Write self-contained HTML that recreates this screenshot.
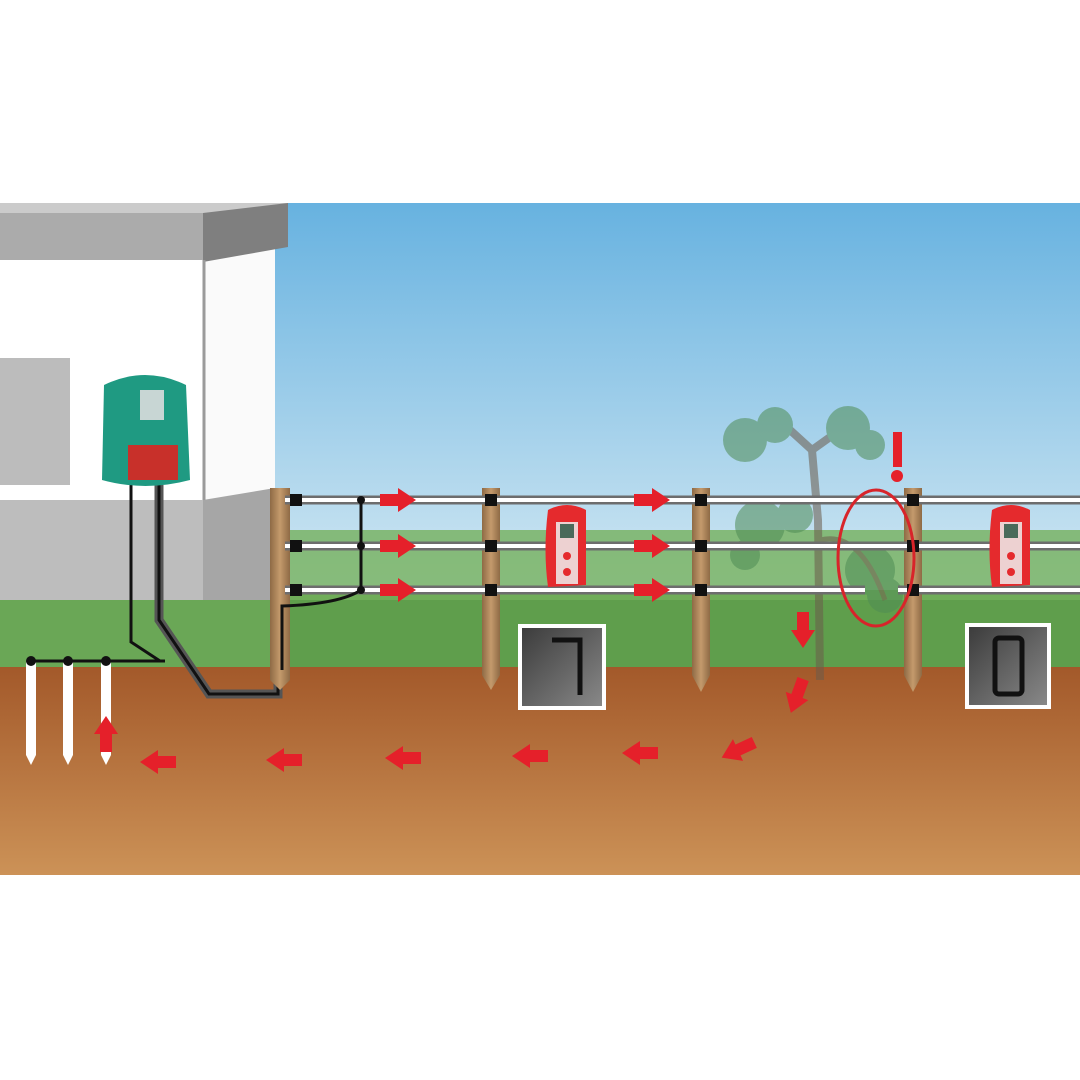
<!DOCTYPE html>
<html><head><meta charset="utf-8"><style>html,body{margin:0;padding:0;background:#fff}svg{display:block}</style></head>
<body>
<svg width="1080" height="1080" viewBox="0 0 1080 1080" xmlns="http://www.w3.org/2000/svg">
<defs>
<linearGradient id="sky" x1="0" y1="0" x2="0" y2="1"><stop offset="0" stop-color="#67b2e0"/><stop offset="1" stop-color="#d4e9f3"/></linearGradient>
<linearGradient id="soil" x1="0" y1="0" x2="0" y2="1"><stop offset="0" stop-color="#a3592a"/><stop offset="1" stop-color="#cc9257"/></linearGradient>
<linearGradient id="disp" x1="0" y1="0" x2="1" y2="1"><stop offset="0" stop-color="#3a3a3a"/><stop offset="1" stop-color="#8a8a8a"/></linearGradient>
<linearGradient id="post" x1="0" y1="0" x2="1" y2="0"><stop offset="0" stop-color="#8e6a45"/><stop offset="0.5" stop-color="#c49a6c"/><stop offset="1" stop-color="#8e6a45"/></linearGradient>
<g id="ar"><rect x="-18" y="-6" width="20" height="12" fill="#e5202a"/><polygon points="0,-12 18,0 0,12" fill="#e5202a"/></g>
</defs>
<rect width="1080" height="1080" fill="#fff"/>
<rect x="275" y="203" width="805" height="400" fill="url(#sky)"/>
<rect x="0" y="590" width="1080" height="80" fill="#5f9e4c"/>
<rect x="285" y="530" width="795" height="70" fill="#74b05c" opacity="0.8"/>
<rect x="0" y="213" width="203" height="290" fill="#fff"/>
<rect x="203" y="250" width="72" height="250" fill="#fafafa"/>
<rect x="0" y="500" width="203" height="100" fill="#bdbdbd"/>
<polygon points="203,500 275,488 275,600 203,600" fill="#a6a6a6"/>
<rect x="0" y="358" width="70" height="127" fill="#bcbcbc"/>
<rect x="0" y="203" width="288" height="10" fill="#cbcbcb"/>
<rect x="0" y="213" width="203" height="47" fill="#ababab"/>
<polygon points="203,213 288,203 288,247 203,262" fill="#7f7f7f"/>
<line x1="204" y1="260" x2="204" y2="500" stroke="#9a9a9a" stroke-width="3"/>
<rect x="0" y="600" width="285" height="70" fill="#6aa756"/>
<rect x="0" y="667" width="1080" height="208" fill="url(#soil)"/>
<g fill="#fff"><polygon points="26,662 36,662 36,755 31,765 26,755"/><polygon points="63,662 73,662 73,755 68,765 63,755"/><polygon points="101,662 111,662 111,755 106,765 101,755"/></g>
<line x1="30" y1="661" x2="165" y2="661" stroke="#111" stroke-width="3"/>
<g fill="#111"><circle cx="31" cy="661" r="5"/><circle cx="68" cy="661" r="5"/><circle cx="106" cy="661" r="5"/></g>
<polyline points="131,485 131,642 160,661" fill="none" stroke="#111" stroke-width="3"/>
<polyline points="159,485 159,620 209,694 278,694 278,670" fill="none" stroke="#555" stroke-width="9"/>
<polyline points="159,485 159,620 209,694 278,694 278,670" fill="none" stroke="#111" stroke-width="3"/>
<path d="M104,385 Q145,365 186,385 L190,480 Q145,492 102,480 Z" fill="#1f9a82"/>
<rect x="140" y="390" width="24" height="30" fill="#c8d6d4"/>
<rect x="128" y="445" width="50" height="35" fill="#c8302a"/>
<g fill="url(#post)">
<polygon points="270,488 290,488 290,680 280,690 270,680"/>
<polygon points="482,488 500,488 500,675 491,690 482,675"/>
<polygon points="692,488 710,488 710,675 701,692 692,675"/>
<polygon points="904,488 922,488 922,675 913,692 904,675"/>
</g>
<g opacity="0.55">
<path d="M820,680 L818,520 L812,450 L790,430 M812,450 L840,430" stroke="#6b5b4b" stroke-width="8" fill="none"/>
<g fill="#4f8c55"><circle cx="745" cy="440" r="22"/><circle cx="775" cy="425" r="18"/><circle cx="848" cy="428" r="22"/><circle cx="870" cy="445" r="15"/><circle cx="760" cy="525" r="25"/><circle cx="795" cy="515" r="18"/><circle cx="745" cy="555" r="15"/><circle cx="870" cy="570" r="25"/><circle cx="885" cy="595" r="18"/></g>
<path d="M820,540 Q860,530 885,600" stroke="#6b5b4b" stroke-width="5" fill="none"/>
</g>
<g stroke="#6d6d6d" stroke-width="9"><line x1="285" y1="500" x2="1080" y2="500"/><line x1="285" y1="546" x2="1080" y2="546"/><line x1="285" y1="590" x2="865" y2="590"/><line x1="898" y1="590" x2="1080" y2="590"/></g>
<g stroke="#fff" stroke-width="4"><line x1="285" y1="500" x2="1080" y2="500"/><line x1="285" y1="546" x2="1080" y2="546"/><line x1="285" y1="590" x2="865" y2="590"/><line x1="898" y1="590" x2="1080" y2="590"/></g>
<g fill="#111">
<rect x="290" y="494" width="12" height="12"/><rect x="290" y="540" width="12" height="12"/><rect x="290" y="584" width="12" height="12"/>
<rect x="485" y="494" width="12" height="12"/><rect x="485" y="540" width="12" height="12"/><rect x="485" y="584" width="12" height="12"/>
<rect x="695" y="494" width="12" height="12"/><rect x="695" y="540" width="12" height="12"/><rect x="695" y="584" width="12" height="12"/>
<rect x="907" y="494" width="12" height="12"/><rect x="907" y="540" width="12" height="12"/><rect x="907" y="584" width="12" height="12"/>
<circle cx="361" cy="500" r="4"/><circle cx="361" cy="546" r="4"/><circle cx="361" cy="590" r="4"/>
</g>
<line x1="361" y1="500" x2="361" y2="590" stroke="#111" stroke-width="3"/>
<path d="M361,590 Q340,604 282,606 L282,670" fill="none" stroke="#111" stroke-width="3"/>
<g>
<path d="M548,510 Q567,500 586,510 L586,585 L548,587 Q543,550 548,510Z" fill="#e52a2d"/>
<rect x="556" y="522" width="22" height="62" fill="#eee" opacity="0.85"/>
<rect x="560" y="524" width="14" height="14" fill="#4a6a5a"/>
<circle cx="567" cy="556" r="4" fill="#e52a2d"/><circle cx="567" cy="572" r="4" fill="#e52a2d"/>
</g>
<g>
<path d="M992,510 Q1011,500 1030,510 L1030,585 L992,587 Q987,550 992,510Z" fill="#e52a2d"/>
<rect x="1000" y="522" width="22" height="62" fill="#eee" opacity="0.85"/>
<rect x="1004" y="524" width="14" height="14" fill="#4a6a5a"/>
<circle cx="1011" cy="556" r="4" fill="#e52a2d"/><circle cx="1011" cy="572" r="4" fill="#e52a2d"/>
</g>
<rect x="520" y="626" width="84" height="82" fill="url(#disp)" stroke="#fff" stroke-width="4"/>
<polyline points="552,640 580,640 580,695" fill="none" stroke="#111" stroke-width="5"/>
<rect x="967" y="625" width="82" height="82" fill="url(#disp)" stroke="#fff" stroke-width="4"/>
<rect x="995" y="638" width="27" height="56" rx="4" fill="none" stroke="#111" stroke-width="5"/>
<ellipse cx="876" cy="558" rx="38" ry="68" fill="none" stroke="#d8242a" stroke-width="3"/>
<rect x="893" y="432" width="9" height="35" fill="#e5202a"/><circle cx="897" cy="476" r="6" fill="#e5202a"/>
<use href="#ar" transform="translate(398,500)"/><use href="#ar" transform="translate(398,546)"/><use href="#ar" transform="translate(398,590)"/>
<use href="#ar" transform="translate(652,500)"/><use href="#ar" transform="translate(652,546)"/><use href="#ar" transform="translate(652,590)"/>
<use href="#ar" transform="translate(803,630) rotate(90)"/>
<use href="#ar" transform="translate(797,696) rotate(110)"/>
<use href="#ar" transform="translate(738,750) rotate(155)"/>
<use href="#ar" transform="translate(640,753) rotate(180)"/>
<use href="#ar" transform="translate(530,756) rotate(180)"/>
<use href="#ar" transform="translate(403,758) rotate(180)"/>
<use href="#ar" transform="translate(284,760) rotate(180)"/>
<use href="#ar" transform="translate(158,762) rotate(180)"/>
<use href="#ar" transform="translate(106,734) rotate(-90)"/>
</svg>
</body></html>
